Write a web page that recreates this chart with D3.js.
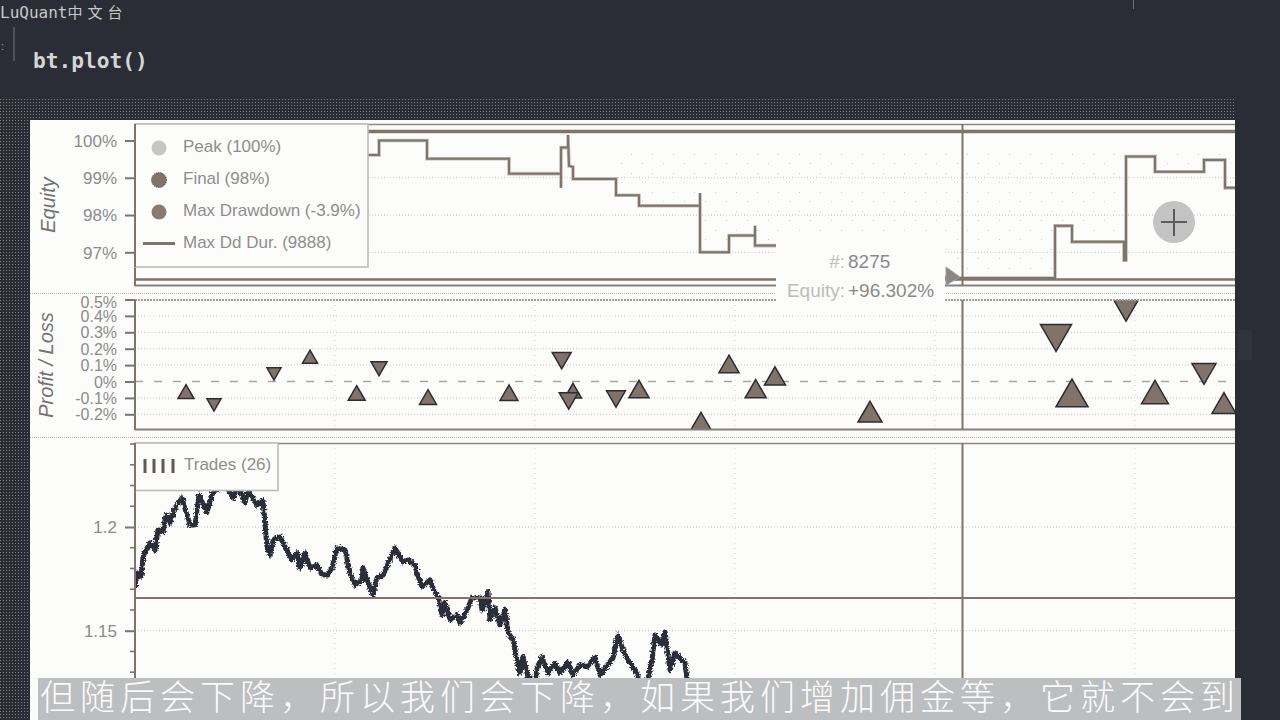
<!DOCTYPE html>
<html>
<head>
<meta charset="utf-8">
<script src="https://cdn.jsdelivr.net/npm/d3@7"></script>
<style>
  html, body { margin: 0; padding: 0; background: #2a2d36; overflow: hidden; }
  svg { display: block; }
  text { font-family: "Liberation Sans", Arial, sans-serif; }
  .tick-label { font-size: 17px; fill: #8c8c8c; }
  .legend-label { font-size: 17px; fill: #8e8e8e; }
</style>
</head>
<body>
<svg id="chart" width="1280" height="720"></svg>
<script>
// Equity curve, vertices of the step line (bar number, percent)
const equityBars = [2300, 2440, 2440, 2920, 2920, 3740, 3740, 4260, 4260, 4260, 4330, 4330, 4340, 4380, 4380, 4810, 4810, 5040, 5040, 5650, 5650, 5650, 5940, 5940, 6200, 6200, 6200, 6410, 8150, 9200, 9200, 9370, 9370, 9890, 9890, 9910, 9910, 10200, 10200, 10690, 10690, 10900, 10900, 11050]
const equityPct = [99.61, 99.61, 100.0, 100.0, 99.51, 99.51, 99.11, 99.11, 98.73, 99.81, 99.81, 100.15, 99.32, 99.29, 98.97, 98.97, 98.53, 98.53, 98.25, 98.25, 98.59, 97.0, 97.0, 97.45, 97.45, 97.71, 97.18, 97.18, 96.31, 96.31, 97.71, 97.71, 97.28, 97.28, 96.79, 96.79, 99.57, 99.57, 99.16, 99.16, 99.48, 99.48, 98.73, 98.73]
const peakLevel = 100.24
const drawdownLevel = 96.27
const equityTicks = [100, 99, 98, 97]

// Trades
const tradeBars = [510, 790, 1390, 1750, 2217, 2440, 2930, 3740, 4267, 4380, 4337, 4810, 5040, 5660, 5940, 6207, 6400, 7350, 9210, 9370, 9910, 10200, 10690, 10890]
const tradePnl = [-0.062, -0.143, 0.046, 0.151, -0.07, 0.078, -0.095, -0.068, 0.127, -0.056, -0.119, -0.107, -0.046, -0.241, 0.107, -0.044, 0.034, -0.184, 0.265, -0.07, 0.436, -0.064, 0.046, -0.131]
const tradeDir = [1, -1, -1, 1, 1, -1, 1, 1, -1, 1, -1, -1, 1, 1, 1, 1, 1, 1, -1, 1, -1, 1, -1, 1]
const tradeSize = [0.5, 0.44, 0.44, 0.47, 0.53, 0.5, 0.53, 0.56, 0.59, 0.53, 0.59, 0.59, 0.63, 0.63, 0.63, 0.66, 0.66, 0.75, 0.97, 1, 0.81, 0.84, 0.75, 0.75]
const pnlTicks = [0.5, 0.4, 0.3, 0.2, 0.1, 0, -0.1, -0.2]

// Price
const priceBars = [0, 20, 60, 80, 100, 150, 200, 230, 280, 310, 350, 400, 470, 510, 550, 600, 640, 720, 780, 900, 980, 1030, 1100, 1130, 1220, 1280, 1290, 1320, 1350, 1380, 1450, 1520, 1570, 1620, 1650, 1700, 1750, 1820, 1870, 1920, 1970, 2020, 2100, 2150, 2200, 2270, 2280, 2330, 2380, 2420, 2480, 2600, 2680, 2730, 2800, 2820, 2870, 2950, 2980, 3030, 3070, 3100, 3150, 3220, 3250, 3320, 3370, 3450, 3470, 3530, 3550, 3600, 3650, 3700, 3730, 3780, 3820, 3850, 3880, 3930, 4000, 4020, 4070, 4130, 4200, 4250, 4330, 4380, 4450, 4520, 4600, 4650, 4780, 4830, 4880, 4930, 5020, 5050, 5120, 5170, 5200, 5270, 5300, 5350, 5400, 5500, 5530, 5600]
const priceClose = [1.1711, 1.1778, 1.1759, 1.1855, 1.188, 1.1923, 1.1889, 1.1986, 1.1976, 1.2058, 1.2019, 1.2092, 1.214, 1.2072, 1.201, 1.201, 1.2154, 1.2072, 1.2169, 1.2207, 1.214, 1.2198, 1.2116, 1.2178, 1.2106, 1.213, 1.2067, 1.1904, 1.1865, 1.1937, 1.1952, 1.1889, 1.1841, 1.1875, 1.1802, 1.1875, 1.1802, 1.1817, 1.1769, 1.1769, 1.1802, 1.1899, 1.1889, 1.1778, 1.172, 1.1745, 1.1802, 1.173, 1.1672, 1.1754, 1.1769, 1.1899, 1.1831, 1.1841, 1.1817, 1.1778, 1.1711, 1.1745, 1.1706, 1.1663, 1.1576, 1.1634, 1.1552, 1.1576, 1.1537, 1.16, 1.1658, 1.1658, 1.16, 1.1687, 1.1552, 1.161, 1.1528, 1.16, 1.1494, 1.1455, 1.1359, 1.1296, 1.1373, 1.1277, 1.1248, 1.132, 1.1373, 1.1296, 1.1344, 1.1296, 1.1349, 1.1287, 1.1335, 1.1325, 1.1373, 1.1287, 1.1369, 1.1479, 1.1407, 1.1359, 1.1296, 1.1229, 1.1248, 1.1359, 1.1479, 1.1431, 1.1494, 1.1311, 1.1393, 1.1344, 1.1229, 1.1166]
const priceMajorTicks = [1.2, 1.15]
const priceMinorTicks = [1.24, 1.23, 1.22, 1.21, 1.19, 1.18, 1.17, 1.16, 1.14, 1.13, 1.12]
const crosshairPrice = 1.1658
const crosshairBar = 8275

const gridBars = [2000, 4000, 6000, 8000, 10000]

const legendItems = ["Peak (100%)", "Final (98%)", "Max Drawdown (-3.9%)", "Max Dd Dur. (9888)"]
const captionText = "但随后会下降，所以我们会下降，如果我们增加佣金等，它就不会到"

const BROWN = "#7f736b"
const HALO = "#c2c0bd"
const INK = "#2a2d37"
const PLOT_LEFT = 135
const PLOT_RIGHT = 1235

const svg = d3.select("#chart")
const defs = svg.append("defs")

const dither = defs.append("pattern").attr("id", "dither")
  .attr("width", 3).attr("height", 3).attr("patternUnits", "userSpaceOnUse")
dither.append("rect").attr("width", 3).attr("height", 3).attr("fill", "#2a2d36")
dither.append("rect").attr("width", 1).attr("height", 1).attr("fill", "#7d7f85")

const sparse = defs.append("pattern").attr("id", "sparse")
  .attr("width", 21).attr("height", 19).attr("patternUnits", "userSpaceOnUse")
sparse.append("rect").attr("x", 1).attr("y", 2).attr("width", 1).attr("height", 1).attr("fill", "#c9c9c9")
sparse.append("rect").attr("x", 12).attr("y", 11).attr("width", 1).attr("height", 1).attr("fill", "#c9c9c9")

// roughens the edge of the price line, the source is a noisy tick series
const rough = defs.append("filter").attr("id", "rough")
  .attr("x", "-5%").attr("y", "-5%").attr("width", "110%").attr("height", "110%")
rough.append("feTurbulence").attr("type", "fractalNoise").attr("baseFrequency", 0.55)
  .attr("numOctaves", 2).attr("seed", 4).attr("result", "noise")
rough.append("feDisplacementMap").attr("in", "SourceGraphic").attr("in2", "noise")
  .attr("scale", 5).attr("xChannelSelector", "R").attr("yChannelSelector", "G")

defs.append("clipPath").attr("id", "clip-equity").append("rect")
  .attr("x", PLOT_LEFT).attr("y", 124).attr("width", PLOT_RIGHT - PLOT_LEFT).attr("height", 162)
defs.append("clipPath").attr("id", "clip-pnl").append("rect")
  .attr("x", PLOT_LEFT).attr("y", 300).attr("width", PLOT_RIGHT - PLOT_LEFT).attr("height", 130)
defs.append("clipPath").attr("id", "clip-price").append("rect")
  .attr("x", PLOT_LEFT).attr("y", 443).attr("width", PLOT_RIGHT - PLOT_LEFT).attr("height", 277)

// --- Notebook background ---
svg.append("rect").attr("width", 1280).attr("height", 720).attr("fill", "#2a2d36")
svg.append("rect").attr("x", 0).attr("y", 98).attr("width", PLOT_RIGHT).attr("height", 22).attr("fill", "url(#dither)")
svg.append("rect").attr("x", 0).attr("y", 98).attr("width", 30).attr("height", 622).attr("fill", "url(#dither)")
svg.append("rect").attr("x", 30).attr("y", 120).attr("width", PLOT_RIGHT - 30).attr("height", 600).attr("fill", "#fcfcfa")
svg.append("rect").attr("x", 1238).attr("y", 330).attr("width", 14).attr("height", 30).attr("fill", "#30333c")
svg.append("rect").attr("x", 1133).attr("y", 0).attr("width", 1).attr("height", 9).attr("fill", "#6d6f76")

const title = svg.append("text").attr("x", 0).attr("y", 18).attr("fill", "#c8c8c8")
  .style("font-family", "'DejaVu Sans Mono', monospace").style("font-size", "16px")
title.append("tspan").text("LuQuant")
title.append("tspan").style("font-family", "'Noto Sans CJK SC'").style("font-size", "15px")
  .attr("letter-spacing", 5).text("中文台")

svg.append("rect").attr("x", 13.5).attr("y", 27).attr("width", 1).attr("height", 34).attr("fill", "#777a80")
svg.append("text").attr("x", 1).attr("y", 50).attr("fill", "#9a9a9a").style("font-size", "11px").text(":")
svg.append("text").attr("x", 33).attr("y", 68).attr("fill", "#d6d6d6")
  .style("font-family", "'DejaVu Sans Mono', monospace").style("font-size", "21.2px").style("font-weight", "bold")
  .text("bt.plot()")

// --- Scales ---
const x = d3.scaleLinear().domain([0, 11000]).range([PLOT_LEFT, PLOT_LEFT + 1100])
const yEquity = d3.scaleLinear().domain([97, 100]).range([252.3, 140.5])
const yPnl = d3.scaleLinear().domain([-0.2, 0.5]).range([414.3, 299.5])
const yPrice = d3.scaleLinear().domain([1.15, 1.2]).range([630.7, 527])
const markerWidth = d3.scaleLinear().domain([0, 1]).range([0, 32])

function hGrid(g, scale, ticks) {
  g.selectAll("line.hgrid").data(ticks).join("line")
    .attr("class", "hgrid")
    .attr("x1", PLOT_LEFT).attr("x2", PLOT_RIGHT)
    .attr("y1", d => scale(d)).attr("y2", d => scale(d))
    .attr("stroke", "#c6c6c6").attr("stroke-dasharray", "1 2")
}

function vGrid(g, top, bottom) {
  g.selectAll("line.vgrid").data(gridBars).join("line")
    .attr("class", "vgrid")
    .attr("x1", d => x(d)).attr("x2", d => x(d))
    .attr("y1", top).attr("y2", bottom)
    .attr("stroke", "#d6d6d6").attr("stroke-dasharray", "1 4")
}

function styleAxis(g, top, bottom) {
  g.select(".domain").remove()
  g.selectAll(".tick line").attr("stroke", BROWN).attr("stroke-width", 2)
  g.selectAll(".tick text").attr("class", "tick-label").attr("x", -18).attr("dy", "0.35em").attr("fill", null)
  g.append("line").attr("x1", 0).attr("x2", 0).attr("y1", top).attr("y2", bottom)
    .attr("stroke", BROWN).attr("stroke-width", 2)
}

// --- Equity panel ---
const equityPts = equityBars.map((b, i) => [b, equityPct[i]])
const equityG = svg.append("g")
hGrid(equityG, yEquity, equityTicks.slice(1))

const equityPlot = svg.append("g").attr("clip-path", "url(#clip-equity)")
equityPlot.append("path")
  .attr("d", d3.area().x(d => x(d[0])).y0(yEquity(peakLevel) + 17).y1(d => yEquity(d[1]) - 4)(equityPts.filter(d => d[0] > 4400)))
  .attr("fill", "url(#sparse)")

const equityLine = d3.line().x(d => x(d[0])).y(d => yEquity(d[1]))
equityPlot.append("path").attr("d", equityLine(equityPts))
  .attr("fill", "none").attr("stroke", HALO).attr("stroke-width", 3.6)
equityPlot.append("path").attr("d", equityLine(equityPts))
  .attr("fill", "none").attr("stroke", BROWN).attr("stroke-width", 2)

equityPlot.append("line").attr("x1", PLOT_LEFT).attr("x2", PLOT_RIGHT)
  .attr("y1", yEquity(peakLevel)).attr("y2", yEquity(peakLevel))
  .attr("stroke", BROWN).attr("stroke-width", 3.5)
equityPlot.append("line").attr("x1", PLOT_LEFT).attr("x2", PLOT_RIGHT)
  .attr("y1", yEquity(drawdownLevel)).attr("y2", yEquity(drawdownLevel))
  .attr("stroke", BROWN).attr("stroke-width", 2.6)

svg.append("line").attr("x1", PLOT_LEFT).attr("x2", PLOT_RIGHT).attr("y1", 124.5).attr("y2", 124.5)
  .attr("stroke", "#8b8683").attr("stroke-width", 1.4)
svg.append("line").attr("x1", PLOT_LEFT).attr("x2", PLOT_RIGHT).attr("y1", 285.5).attr("y2", 285.5)
  .attr("stroke", "#85807c").attr("stroke-width", 2)

const equityAxis = svg.append("g").attr("transform", `translate(${PLOT_LEFT},0)`)
  .call(d3.axisLeft(yEquity).tickValues(equityTicks).tickSize(10).tickFormat(d => d + "%"))
styleAxis(equityAxis, 124, 286)

// --- Profit / Loss panel ---
const pnlG = svg.append("g")
hGrid(pnlG, yPnl, pnlTicks.filter(d => d !== 0 && d !== 0.5))
vGrid(pnlG, 300, 430)

const pnlPlot = svg.append("g").attr("clip-path", "url(#clip-pnl)")
pnlPlot.append("line").attr("x1", PLOT_LEFT).attr("x2", PLOT_RIGHT)
  .attr("y1", yPnl(0)).attr("y2", yPnl(0))
  .attr("stroke", "#a9a5a1").attr("stroke-width", 1.6).attr("stroke-dasharray", "8 11")

const triangle = d3.symbol().type(d3.symbolTriangle)
pnlPlot.selectAll("path.trade").data(tradeBars).join("path")
  .attr("class", "trade")
  .attr("d", (d, i) => {
    const w = markerWidth(tradeSize[i])
    return triangle.size(w * w * Math.sqrt(3) / 4)()
  })
  .attr("transform", (d, i) => {
    const w = markerWidth(tradeSize[i])
    const h = w * Math.sqrt(3) / 2
    // symbol is centred on its centroid, the values are read at mid height
    const cy = yPnl(tradePnl[i]) + tradeDir[i] * h / 6
    return `translate(${x(d)},${cy}) rotate(${tradeDir[i] > 0 ? 0 : 180})`
  })
  .attr("fill", BROWN).attr("stroke", "#2e2c30").attr("stroke-width", 1.5)

svg.append("line").attr("x1", PLOT_LEFT).attr("x2", PLOT_RIGHT).attr("y1", 300).attr("y2", 300)
  .attr("stroke", "#9c9c9c").attr("stroke-width", 2).attr("stroke-dasharray", "2 1")
svg.append("line").attr("x1", PLOT_LEFT).attr("x2", PLOT_RIGHT).attr("y1", 429.5).attr("y2", 429.5)
  .attr("stroke", "#85807c").attr("stroke-width", 2)

const pnlAxis = svg.append("g").attr("transform", `translate(${PLOT_LEFT},0)`)
  .call(d3.axisLeft(yPnl).tickValues(pnlTicks).tickSize(10).tickFormat(d => d + "%"))
styleAxis(pnlAxis, 300, 430)
pnlAxis.selectAll(".tick text").style("font-size", "16px")
// top label is pushed inside the canvas, like bokeh does
pnlAxis.selectAll(".tick text").filter(d => d === 0.5).attr("dy", "0.5em")

// panel separators
svg.selectAll("line.sep").data([293.5, 437.5]).join("line")
  .attr("class", "sep")
  .attr("x1", 30).attr("x2", PLOT_RIGHT).attr("y1", d => d).attr("y2", d => d)
  .attr("stroke", "#bdbdbd").attr("stroke-dasharray", "1 1")

// --- Price panel ---
const priceG = svg.append("g")
hGrid(priceG, yPrice, priceMajorTicks)
vGrid(priceG, 443, 720)

const pricePlot = svg.append("g").attr("clip-path", "url(#clip-price)")
const priceLine = d3.line().x((d, i) => x(priceBars[i])).y((d, i) => yPrice(priceClose[i]))
pricePlot.append("path").attr("d", priceLine(priceClose))
  .attr("fill", "none").attr("stroke", INK).attr("stroke-width", 5).attr("stroke-linejoin", "round")
  .attr("filter", "url(#rough)")

svg.append("line").attr("x1", PLOT_LEFT).attr("x2", PLOT_RIGHT).attr("y1", 443.5).attr("y2", 443.5)
  .attr("stroke", "#8b8683").attr("stroke-width", 1.4)

const priceAxis = svg.append("g").attr("transform", `translate(${PLOT_LEFT},0)`)
  .call(d3.axisLeft(yPrice).tickValues(priceMajorTicks).tickSize(10).tickFormat(d3.format("")))
styleAxis(priceAxis, 443, 720)
priceAxis.selectAll("line.minor").data(priceMinorTicks).join("line")
  .attr("class", "minor")
  .attr("x1", -5).attr("x2", 0)
  .attr("y1", d => yPrice(d)).attr("y2", d => yPrice(d))
  .attr("stroke", BROWN).attr("stroke-width", 1.6)

// --- Crosshair ---
const crossX = x(crosshairBar)
svg.selectAll("line.cross").data([[124, 286], [300, 430], [443, 680]]).join("line")
  .attr("class", "cross")
  .attr("x1", crossX).attr("x2", crossX)
  .attr("y1", d => d[0]).attr("y2", d => d[1])
  .attr("stroke", BROWN).attr("stroke-width", 2)
svg.append("line").attr("x1", PLOT_LEFT).attr("x2", PLOT_RIGHT)
  .attr("y1", yPrice(crosshairPrice)).attr("y2", yPrice(crosshairPrice))
  .attr("stroke", BROWN).attr("stroke-width", 2)

// --- Axis titles ---
svg.selectAll("text.axis-title").data([["Equity", 55, 205], ["Profit / Loss", 53, 365]]).join("text")
  .attr("class", "axis-title")
  .attr("transform", d => `translate(${d[1]},${d[2]}) rotate(-90)`)
  .attr("text-anchor", "middle")
  .attr("fill", "#727272")
  .style("font-size", "20px").style("font-style", "italic")
  .text(d => d[0])

// --- Equity legend ---
const legend = svg.append("g")
legend.append("rect").attr("x", PLOT_LEFT).attr("y", 124).attr("width", 233).attr("height", 143)
  .attr("fill", "#fcfcfa").attr("stroke", "#bcbcbc").attr("stroke-width", 1.6)
legend.append("line").attr("x1", PLOT_LEFT).attr("x2", PLOT_LEFT).attr("y1", 124).attr("y2", 267)
  .attr("stroke", BROWN).attr("stroke-width", 2)
const legendRow = i => 148 + i * 32
legend.append("circle").attr("cx", 159).attr("cy", legendRow(0)).attr("r", 7.5).attr("fill", "#c6c6c6")
legend.append("circle").attr("cx", 159).attr("cy", legendRow(1)).attr("r", 7.5).attr("fill", BROWN)
  .attr("stroke", "#45434a").attr("stroke-dasharray", "1 1")
legend.append("circle").attr("cx", 159).attr("cy", legendRow(2)).attr("r", 7.5).attr("fill", "#877b72")
legend.append("line").attr("x1", 143).attr("x2", 175).attr("y1", legendRow(3) - 0.5).attr("y2", legendRow(3) - 0.5)
  .attr("stroke", BROWN).attr("stroke-width", 3)
legend.selectAll("text").data(legendItems).join("text")
  .attr("class", "legend-label")
  .attr("x", 183).attr("y", (d, i) => legendRow(i) + 4)
  .text(d => d)

// --- Trades legend ---
const tradesLegend = svg.append("g")
tradesLegend.append("rect").attr("x", PLOT_LEFT).attr("y", 443).attr("width", 143).attr("height", 47.5)
  .attr("fill", "#fcfcfa").attr("stroke", "#bcbcbc").attr("stroke-width", 1.6)
tradesLegend.selectAll("line").data([145, 154, 163, 173]).join("line")
  .attr("x1", d => d).attr("x2", d => d).attr("y1", 459).attr("y2", 473)
  .attr("stroke", "#5f5a58").attr("stroke-width", 3)
tradesLegend.append("line").attr("x1", PLOT_LEFT).attr("x2", PLOT_LEFT).attr("y1", 443).attr("y2", 491)
  .attr("stroke", BROWN).attr("stroke-width", 2)
tradesLegend.append("text").attr("class", "legend-label").attr("x", 184).attr("y", 470).text("Trades (26)")

// --- Hover tooltip ---
const tip = svg.append("g")
tip.append("rect").attr("x", 776).attr("y", 238).attr("width", 169).attr("height", 74).attr("fill", "#fcfcfa")
tip.append("path").attr("d", "M946,267 L960,277 L946,285 Z").attr("fill", "#8e8580").attr("stroke", "#a5a09c")
tip.append("text").attr("x", 845).attr("y", 268).attr("text-anchor", "end").attr("fill", "#bdbdbd")
  .style("font-size", "19px").text("#:")
tip.append("text").attr("x", 848).attr("y", 268).attr("fill", "#8a8a8a")
  .style("font-size", "19px").text(crosshairBar)
tip.append("text").attr("x", 845).attr("y", 297).attr("text-anchor", "end").attr("fill", "#bdbdbd")
  .style("font-size", "19px").text("Equity:")
tip.append("text").attr("x", 848).attr("y", 297).attr("fill", "#8a8a8a")
  .style("font-size", "19px").text("+96.302%")

// --- Mouse cursor highlight ---
const cursor = svg.append("g").attr("transform", "translate(1174,222)")
cursor.append("circle").attr("r", 21).attr("fill", "#c3c3c3")
cursor.append("line").attr("x1", -13).attr("x2", 13).attr("stroke", "#3a3a42").attr("stroke-width", 1.5)
cursor.append("line").attr("y1", -13).attr("y2", 14).attr("stroke", "#5f5a58").attr("stroke-width", 2)

// --- Subtitle bar ---
svg.append("rect").attr("x", 38).attr("y", 678).attr("width", 1203).attr("height", 42).attr("fill", "#bdbec0")
svg.append("text").attr("x", 40).attr("y", 710).attr("fill", "#fbfbfb")
  .style("font-family", "'Noto Sans CJK SC'").style("font-size", "35px").style("font-weight", 300)
  .attr("letter-spacing", 5)
  .text(captionText)
</script>
</body>
</html>
